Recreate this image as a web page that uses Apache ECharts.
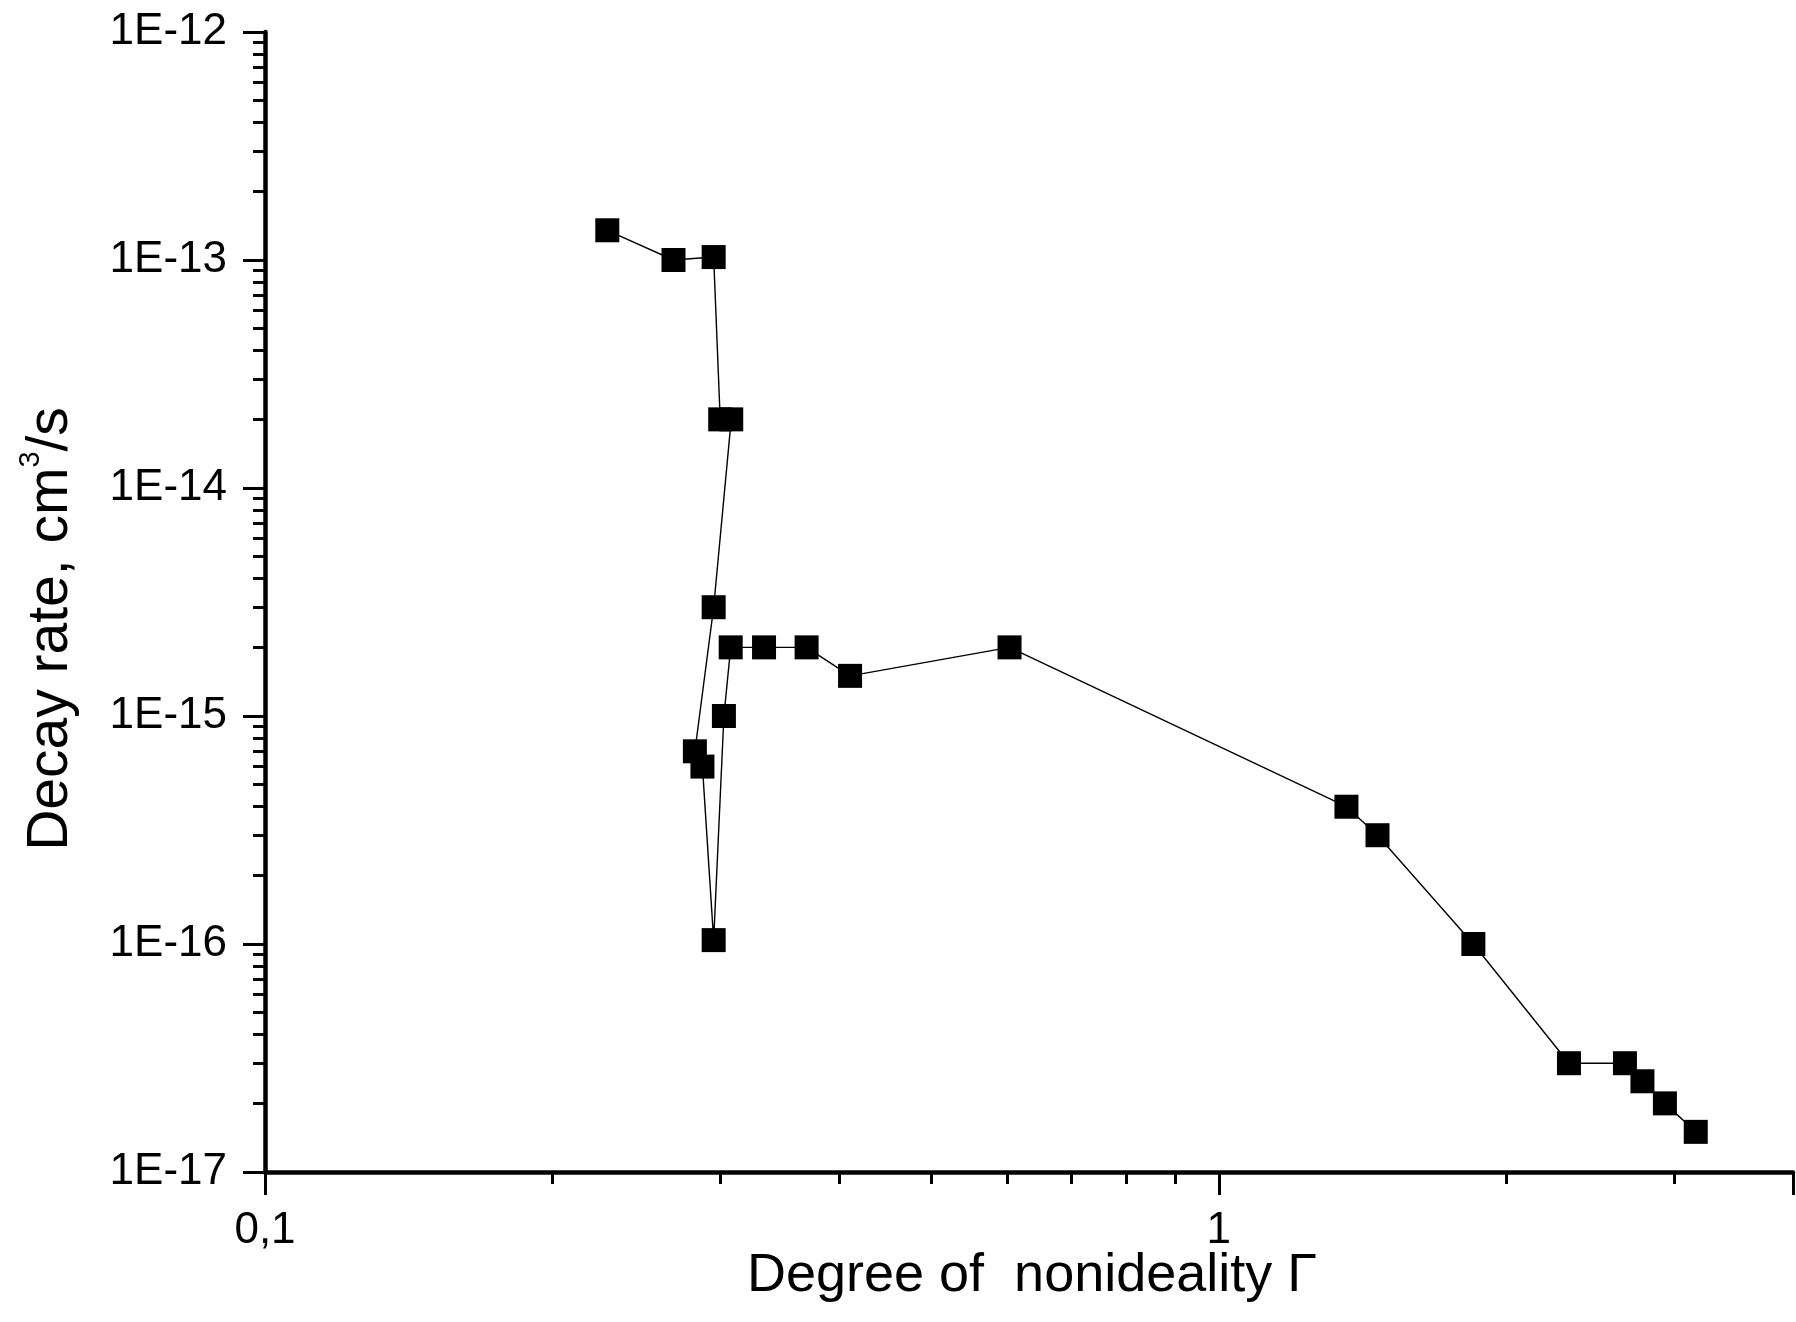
<!DOCTYPE html>
<html>
<head>
<meta charset="utf-8">
<script src="https://cdn.jsdelivr.net/npm/echarts@6/dist/echarts.min.js"></script>
<style>
html,body{margin:0;padding:0;background:#fff;}
#c{width:1796px;height:1322px;}
</style>
</head>
<body>
<div id="c"></div>
<script>
// Data (Degree of nonideality Γ vs decay rate)
const gammaValues = [0.2285, 0.2681, 0.2954, 0.3001, 0.3082, 0.2954, 0.2823, 0.2875, 0.2954, 0.3028, 0.3078, 0.3336, 0.3697, 0.4106, 0.6034, 1.361, 1.467, 1.849, 2.329, 2.666, 2.781, 2.936, 3.163];
const rateValues = [1.35e-13, 1.0e-13, 1.03e-13, 2.0e-14, 2.0e-14, 3.0e-15, 7.0e-16, 6.0e-16, 1.04e-16, 1.0e-15, 2.0e-15, 2.0e-15, 2.0e-15, 1.5e-15, 2.0e-15, 4.0e-16, 3.0e-16, 1.0e-16, 3.0e-17, 3.0e-17, 2.5e-17, 2.0e-17, 1.5e-17];

const xMajorTicks = [0.1, 1];
const xTickLabels = ['0,1', '1'];
const xMinorTicks = [0.2, 0.3, 0.4, 0.5, 0.6, 0.7, 0.8, 0.9, 2, 3, 4];
const yMajorTicks = [1e-17, 1e-16, 1e-15, 1e-14, 1e-13, 1e-12];
const yTickLabels = ['1E-17', '1E-16', '1E-15', '1E-14', '1E-13', '1E-12'];
const yMinorTicks = [];
[-17, -16, -15, -14, -13].forEach(function (e) {
  [2, 3, 4, 5, 6, 7, 8, 9].forEach(function (m) { yMinorTicks.push(parseFloat(m + 'e' + e)); });
});

const xName = 'Degree of  nonideality Γ';
const yNameMain = 'Decay rate, cm';
const yNameSup = '3';
const yNameTail = '/s';

function labelFor(v, ticks, labels) {
  for (let i = 0; i < ticks.length; i++) {
    if (Math.abs(Math.log10(v) - Math.log10(ticks[i])) < 1e-6) return labels[i];
  }
  return '';
}

const FONT = '"Liberation Sans", Arial, sans-serif';
const chart = echarts.init(document.getElementById('c'), null, {renderer: 'canvas'});

const option = {
  animation: false,
  backgroundColor: '#ffffff',
  grid: {left: 265, top: 32, right: 0, bottom: 150, containLabel: false},
  xAxis: [
    {
      type: 'log', logBase: 10, min: 0.1, max: 4, position: 'bottom',
      splitLine: {show: false},
      axisLine: {show: true, onZero: false, lineStyle: {color: '#000', width: 4.5}},
      axisTick: {show: true, inside: false, length: 23, lineStyle: {color: '#000', width: 3}},
      axisLabel: {
        show: true, margin: 37, color: '#000', fontFamily: FONT, fontSize: 44,
        showMinLabel: true, showMaxLabel: true,
        formatter: function (v) { return labelFor(v, xMajorTicks, xTickLabels); }
      }
    },
    {
      type: 'log', logBase: 10, min: 0.1, max: 4, position: 'bottom',
      splitLine: {show: false},
      axisLine: {show: false, onZero: false},
      axisTick: {show: true, inside: false, length: 12, customValues: xMinorTicks, lineStyle: {color: '#000', width: 3}},
      axisLabel: {show: false}
    }
  ],
  yAxis: [
    {
      type: 'log', logBase: 10, min: 1e-17, max: 1e-12, position: 'left',
      splitLine: {show: false},
      axisLine: {show: true, onZero: false, lineStyle: {color: '#000', width: 4.5}},
      axisTick: {show: true, inside: false, length: 22, lineStyle: {color: '#000', width: 3}},
      axisLabel: {
        show: true, margin: 38, color: '#000', fontFamily: FONT, fontSize: 44,
        showMinLabel: true, showMaxLabel: true,
        formatter: function (v) { return labelFor(v, yMajorTicks, yTickLabels); }
      }
    },
    {
      type: 'log', logBase: 10, min: 1e-17, max: 1e-12, position: 'left',
      splitLine: {show: false},
      axisLine: {show: false, onZero: false},
      axisTick: {show: true, inside: false, length: 12, customValues: yMinorTicks, lineStyle: {color: '#000', width: 3}},
      axisLabel: {show: false}
    }
  ],
  graphic: [
    {
      type: 'text', x: 1032, y: 1276,
      style: {text: xName, font: '54px ' + FONT, fill: '#000', align: 'center', verticalAlign: 'middle'}
    },
    {
      type: 'text', x: 51, y: 629, rotation: Math.PI / 2,
      style: {
        text: yNameMain + '{sup|' + yNameSup + '}' + yNameTail,
        font: '57px ' + FONT, fill: '#000', lineHeight: 69,
        align: 'center', verticalAlign: 'middle',
        rich: {sup: {font: '29px ' + FONT, fill: '#000', lineHeight: 20, verticalAlign: 'top'}}
      }
    }
  ],
  series: [
    {
      type: 'line', xAxisIndex: 0, yAxisIndex: 0,
      data: gammaValues.map(function (g, i) { return [g, rateValues[i]]; }),
      symbol: 'rect', symbolSize: 24, showSymbol: true,
      itemStyle: {color: '#000'},
      lineStyle: {color: '#000', width: 1.4},
      emphasis: {disabled: true}
    }
  ]
};
chart.setOption(option);
</script>
</body>
</html>
